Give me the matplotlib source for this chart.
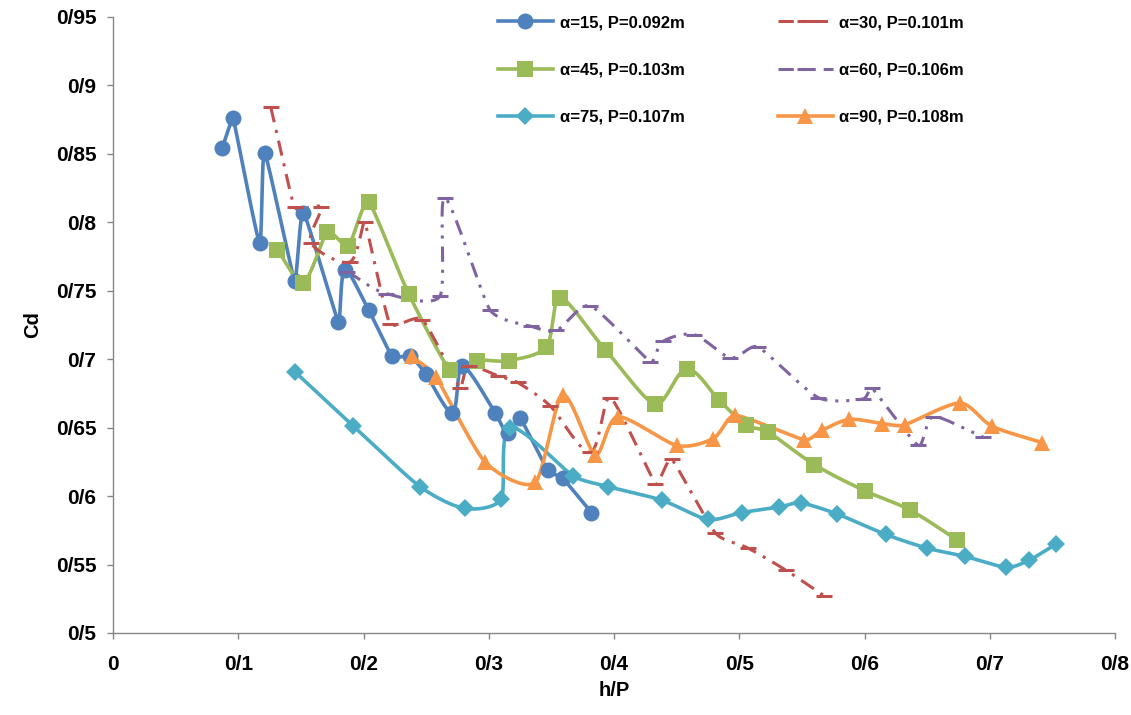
import numpy as np
import matplotlib
matplotlib.use("Agg")
import matplotlib.pyplot as plt
from matplotlib.lines import Line2D

plt.rcParams["font.family"] = ["Liberation Sans", "DejaVu Sans"]
plt.rcParams["font.weight"] = "bold"

# h/P and Cd values
x15 = [0.087, 0.096, 0.117, 0.121, 0.145, 0.152, 0.180, 0.185, 0.204, 0.223,
       0.237, 0.250, 0.271, 0.279, 0.305, 0.315, 0.325, 0.347, 0.359, 0.382]
y15 = [0.854, 0.876, 0.785, 0.851, 0.757, 0.807, 0.727, 0.765, 0.736, 0.702,
       0.702, 0.689, 0.661, 0.695, 0.661, 0.646, 0.657, 0.619, 0.613, 0.588]

x30 = [0.126, 0.145, 0.166, 0.158, 0.189, 0.201, 0.221, 0.247, 0.277, 0.284,
       0.307, 0.323, 0.349, 0.381, 0.397, 0.433, 0.446, 0.481, 0.507, 0.537, 0.568]
y30 = [0.884, 0.811, 0.811, 0.785, 0.771, 0.800, 0.726, 0.729, 0.679, 0.695,
       0.688, 0.683, 0.666, 0.632, 0.672, 0.609, 0.627, 0.573, 0.562, 0.546, 0.527]

x45 = [0.131, 0.152, 0.171, 0.188, 0.204, 0.236, 0.269, 0.291, 0.316, 0.346, 0.357,
       0.393, 0.433, 0.458, 0.484, 0.505, 0.523, 0.560, 0.600, 0.636, 0.674]
y45 = [0.780, 0.756, 0.793, 0.783, 0.815, 0.748, 0.692, 0.699, 0.699, 0.709, 0.745,
       0.707, 0.667, 0.693, 0.670, 0.652, 0.647, 0.623, 0.604, 0.590, 0.568]

x60 = [0.187, 0.218, 0.261, 0.265, 0.301, 0.334, 0.354, 0.381, 0.429, 0.439,
       0.464, 0.493, 0.515, 0.563, 0.599, 0.606, 0.643, 0.655, 0.695]
y60 = [0.764, 0.748, 0.746, 0.818, 0.736, 0.724, 0.721, 0.739, 0.698, 0.713,
       0.718, 0.701, 0.709, 0.672, 0.671, 0.679, 0.637, 0.658, 0.643]

x75 = [0.145, 0.192, 0.245, 0.281, 0.310, 0.317, 0.367, 0.395, 0.438, 0.475,
       0.502, 0.532, 0.549, 0.578, 0.617, 0.650, 0.680, 0.713, 0.731, 0.753]
y75 = [0.691, 0.651, 0.607, 0.591, 0.598, 0.650, 0.615, 0.607, 0.597, 0.583,
       0.588, 0.592, 0.595, 0.587, 0.572, 0.562, 0.556, 0.548, 0.553, 0.565]

x90 = [0.239, 0.258, 0.297, 0.337, 0.359, 0.385, 0.403, 0.450, 0.479, 0.497,
       0.552, 0.566, 0.588, 0.614, 0.632, 0.676, 0.702, 0.742]
y90 = [0.702, 0.687, 0.625, 0.610, 0.674, 0.630, 0.658, 0.637, 0.642, 0.659,
       0.641, 0.648, 0.656, 0.653, 0.652, 0.668, 0.651, 0.639]

x_ticks = [0, 0.1, 0.2, 0.3, 0.4, 0.5, 0.6, 0.7, 0.8]
x_labels = ["0", "0/1", "0/2", "0/3", "0/4", "0/5", "0/6", "0/7", "0/8"]
y_ticks = [0.5, 0.55, 0.6, 0.65, 0.7, 0.75, 0.8, 0.85, 0.9, 0.95]
y_labels = ["0/5", "0/55", "0/6", "0/65", "0/7", "0/75", "0/8", "0/85", "0/9", "0/95"]


def unit(v):
    return v / max(np.hypot(*v), 1e-9)


def handle(p_prev, p, p_next, seg):
    # handle length shrinks at sharp turns, like Excel's smoothed lines
    a = np.hypot(*(p - p_prev))
    b = np.hypot(*(p_next - p))
    if a == 0 or b == 0:
        return unit(p_next - p_prev) * seg / 3
    cos = np.dot(unit(p - p_prev), unit(p_next - p))
    k = np.sqrt(max(0.0, (1 + cos) / 2))
    return unit(p_next - p_prev) * min(a, b) / 3 * k


def smooth(xs, ys, sx=1252.5, sy=1369.0, n=24):
    p = np.column_stack([np.asarray(xs) * sx, np.asarray(ys) * sy])
    ext = np.vstack([p[0], p, p[-1]])
    t = np.linspace(0, 1, n)[1:, None]
    out = [p[:1]]
    for i in range(len(p) - 1):
        p0, p1, p2, p3 = ext[i], ext[i + 1], ext[i + 2], ext[i + 3]
        seg = np.hypot(*(p2 - p1))
        c1 = p1 + handle(p0, p1, p2, seg)
        c2 = p2 - handle(p1, p2, p3, seg)
        out.append((1 - t) ** 3 * p1 + 3 * (1 - t) ** 2 * t * c1
                   + 3 * (1 - t) * t ** 2 * c2 + t ** 3 * p2)
    c = np.vstack(out)
    return c[:, 0] / sx, c[:, 1] / sy


series = [
    (x15, y15, "α=15, P=0.092m", "#4F81BD", "-", "o", 11.5, 2.6),
    (x45, y45, "α=45, P=0.103m", "#9BBB59", "-", "s", 11, 2.6),
    (x75, y75, "α=75, P=0.107m", "#4BACC6", "-", "D", 9.5, 2.6),
    (x30, y30, "α=30, P=0.101m", "#C0504D", (0, (5, 2.6, 1, 2.6)), "_", 11, 2.2),
    (x60, y60, "α=60, P=0.106m", "#8064A2", (0, (5, 2.6, 1, 2.6, 1, 2.6)), "_", 11, 2.2),
    (x90, y90, "α=90, P=0.108m", "#F79646", "-", "^", 12, 2.6),
]

fig = plt.figure(figsize=(11.31, 7.15), dpi=100)
ax = fig.add_axes([113 / 1131, 82 / 715, 1002 / 1131, 616 / 715])

handles = []
for xs, ys, label, color, ls, mk, ms, lw in series:
    sx, sy = smooth(xs, ys)
    ax.plot(sx, sy, color=color, linestyle=ls, linewidth=lw,
            dash_capstyle="butt", solid_capstyle="round", zorder=2)
    ax.plot(xs, ys, linestyle="none", marker=mk, markersize=ms, color=color,
            markeredgewidth=2.2 if mk == "_" else 0, zorder=3)
    handles.append(Line2D([], [], color=color, linestyle=ls, linewidth=lw,
                          marker=mk, markersize=ms,
                          markeredgewidth=2.2 if mk == "_" else 0, label=label))

ax.set_xlim(0, 0.8)
ax.set_ylim(0.5, 0.95)
ax.set_xticks(x_ticks)
ax.set_xticklabels(x_labels)
ax.set_yticks(y_ticks)
ax.set_yticklabels(y_labels)
ax.tick_params(axis="both", direction="out", length=4, width=1, color="#868686",
               labelsize=15)
ax.tick_params(axis="x", pad=12)
ax.tick_params(axis="y", pad=8)
for side in ["top", "right"]:
    ax.spines[side].set_visible(False)
for side in ["left", "bottom"]:
    ax.spines[side].set_color("#868686")
    ax.spines[side].set_linewidth(1)

ax.set_xlabel("h/P", fontsize=14.5, fontweight="bold", labelpad=5)
ax.set_ylabel("Cd", fontsize=14.5, fontweight="bold", labelpad=10)

leg = ax.legend(handles=handles, ncol=2, loc="upper left", frameon=False,
                bbox_to_anchor=(498 / 1131, 1 - 15 / 715),
                bbox_transform=fig.transFigure, borderpad=0, borderaxespad=0,
                handlelength=3.3, handletextpad=0.4, columnspacing=5.6,
                labelspacing=1.95, prop={"size": 12, "weight": "bold"})

plt.savefig("out.png", dpi=100)
